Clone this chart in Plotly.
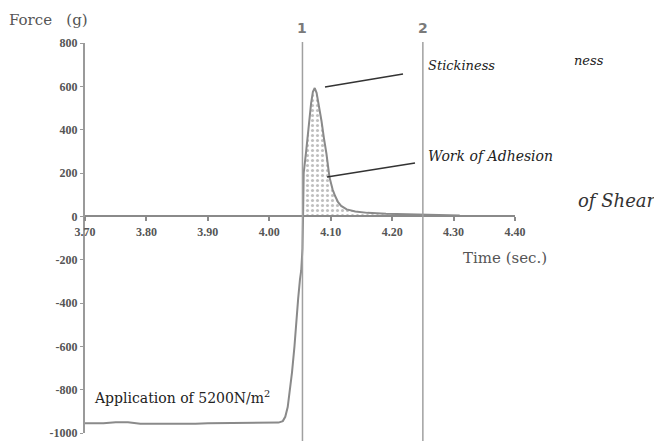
import plotly.graph_objects as go

# ---- data ----
time_neg = [3.700, 3.730, 3.750, 3.770, 3.790, 3.850, 3.880, 3.900, 3.950, 3.980, 4.000,
            4.015, 4.022, 4.026, 4.030, 4.033, 4.037, 4.041, 4.044, 4.047, 4.050, 4.052, 4.054, 4.055]
force_neg = [-955, -955, -950, -950, -957, -958, -957, -955, -955, -954, -953,
             -952, -945, -925, -880, -820, -720, -600, -480, -380, -290, -250, -150, 0]

time_pos = [4.055, 4.056, 4.060, 4.064, 4.068, 4.071, 4.074, 4.077, 4.081, 4.085, 4.089,
            4.093, 4.098, 4.103, 4.107, 4.112, 4.117, 4.126, 4.140, 4.160, 4.190, 4.220,
            4.250, 4.280, 4.310]
force_pos = [0, 200, 300, 420, 520, 575, 592, 570, 510, 440, 360,
             290, 180, 125, 95, 65, 48, 32, 22, 16, 12, 10, 8, 6, 4]

marker_times = [4.054, 4.25]
marker_labels = ["1", "2"]

x_ticks = [3.70, 3.80, 3.90, 4.00, 4.10, 4.20, 4.30, 4.40]
x_ticktext = ["3.70", "3.80", "3.90", "4.00", "4.10", "4.20", "4.30", "4.40"]
y_ticks = [-1000, -800, -600, -400, -200, 0, 200, 400, 600, 800]
y_ticktext = ["-1000", "-800", "-600", "-400", "-200", "0", "200", "400", "600", "800"]

W, H = 654, 441
L, R, T, B = 85, 139, 43, 8
PW, PH = W - L - R, H - T - B


def px(x):
    return (x - L) / PW


def py(y):
    return (H - B - y) / PH


SERIF = "Liberation Serif, Times New Roman, serif"
WSERIF = "DejaVu Serif, serif"

fig = go.Figure()
fig.add_trace(go.Scatter(x=time_neg, y=force_neg, mode="lines",
                         line=dict(color="#8a8a8a", width=2), hoverinfo="skip"))
fig.add_trace(go.Scatter(x=time_pos, y=force_pos, mode="lines", fill="tozeroy",
                         line=dict(color="#8a8a8a", width=2),
                         fillcolor="white",
                         fillpattern=dict(shape=".", size=5, solidity=0.3,
                                          fgcolor="#808080", bgcolor="white"),
                         hoverinfo="skip"))

shapes = []
for t in marker_times:
    shapes.append(dict(type="line", xref="x", yref="paper", x0=t, x1=t,
                       y0=py(42), y1=py(441), line=dict(color="#a0a0a0", width=1.5)))
# leader lines
shapes.append(dict(type="line", xref="paper", yref="paper", x0=px(325), y0=py(87),
                   x1=px(403), y1=py(74), line=dict(color="#333333", width=1.5)))
shapes.append(dict(type="line", xref="paper", yref="paper", x0=px(327), y0=py(177),
                   x1=px(415), y1=py(163), line=dict(color="#333333", width=1.5)))

annotations = []
for t, lab in zip(marker_times, marker_labels):
    annotations.append(dict(x=t, xref="x", y=py(18), yref="paper", text=f"<b>{lab}</b>",
                            showarrow=False, font=dict(family="DejaVu Sans", size=14, color="#7a7a7a")))


def txt(x, y, text, size, color="#333333", italic=False, family=WSERIF):
    t = f"<i>{text}</i>" if italic else text
    annotations.append(dict(x=px(x), y=py(y), xref="paper", yref="paper", text=t,
                            showarrow=False, xanchor="left", yanchor="middle",
                            font=dict(family=family, size=size, color=color)))


txt(7, 20, "Force&nbsp;&nbsp;&nbsp;(g)", 15, "#555555")
txt(426, 65, "Stickiness", 13, "#222222", italic=True)
txt(426, 156, "Work of Adhesion", 14, "#222222", italic=True)
txt(572, 61, "ness", 13, "#222222", italic=True)
txt(576, 200, "of Shear", 18, "#333333", italic=True)
txt(461, 258, "Time (sec.)", 15, "#555555")
txt(92, 397, "Application of 5200N/m<sup>2</sup>", 14, "#222222")

fig.update_layout(
    width=W, height=H,
    margin=dict(l=L, r=R, t=T, b=B, autoexpand=False),
    paper_bgcolor="white", plot_bgcolor="white",
    showlegend=False,
    shapes=shapes,
    annotations=annotations,
    xaxis=dict(range=[3.70, 4.40], tickvals=x_ticks,
               ticktext=[f"<b>{t}</b>" for t in x_ticktext],
               anchor="free", position=1000 / 1800, showgrid=False, zeroline=False,
               automargin=False,
               showline=True, linecolor="#8a8a8a", linewidth=2,
               ticks="outside", ticklen=4, tickcolor="#8a8a8a", tickwidth=1.5,
               tickfont=dict(family=SERIF, size=12, color="#555555")),
    yaxis=dict(range=[-1000, 800], tickvals=y_ticks,
               ticktext=[f"<b>{t}</b>" for t in y_ticktext],
               automargin=False,
               showgrid=False, zeroline=False, showline=True, linecolor="#9a9a9a",
               linewidth=2, ticks="outside", ticklen=3, tickcolor="#9a9a9a",
               tickfont=dict(family=SERIF, size=12, color="#555555")),
)

fig.write_html("out.html", post_script="document.body.style.margin='0';",
               config={"displayModeBar": False})
